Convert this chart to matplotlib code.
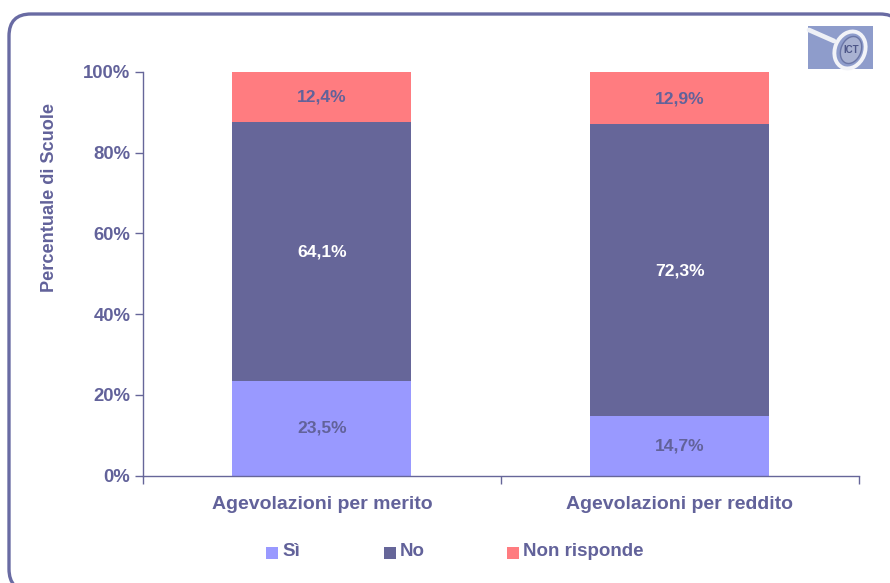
import matplotlib
matplotlib.use("Agg")
import matplotlib.pyplot as plt
from matplotlib.patches import Ellipse, FancyBboxPatch, Rectangle
from matplotlib.ticker import FixedLocator, NullFormatter
import numpy as np

categories = ["Agevolazioni per merito", "Agevolazioni per reddito"]
si = [23.5, 14.7]
no = [64.1, 72.3]
non_risponde = [12.4, 12.9]
y_ticks = [0, 20, 40, 60, 80, 100]
y_tick_labels = ["0%", "20%", "40%", "60%", "80%", "100%"]

W, H = 890, 583
TEXT = "#62629a"
C_SI = "#9999ff"
C_NO = "#666699"
C_NR = "#ff7c80"

plt.rcParams["font.family"] = ["Liberation Sans", "DejaVu Sans"]
plt.rcParams["font.weight"] = "bold"

fig = plt.figure(figsize=(W / 100, H / 100), dpi=100, facecolor="white")

# background layer in pixel coordinates: frame and logo
bg = fig.add_axes([0, 0, 1, 1])
bg.set_xlim(0, W)
bg.set_ylim(H, 0)
bg.axis("off")
bg.add_patch(FancyBboxPatch((9, 14), 893, 577,
                            boxstyle="round,pad=0,rounding_size=22",
                            fc="white", ec="#696ba3", lw=2.4, clip_on=True))
bg.add_patch(Rectangle((808, 26), 65, 43, fc="#8e9ccb", ec="none"))
bg.plot([809, 834], [30, 41], color="#eef0f6", lw=3.4, solid_capstyle="round")
bg.add_patch(Ellipse((850, 50), 30, 38, angle=22, fc="none", ec="#f2f3f8", lw=2.8))
bg.add_patch(Ellipse((851, 50), 20, 28, angle=22, fc="#a9b2d2", ec="#6b76a6", lw=1))
bg.text(851, 50, "ICT", fontsize=7, color="#4d5688", ha="center", va="center")

ax = fig.add_axes([143 / W, 1 - 475.5 / H, (858.5 - 143) / W, (475.5 - 72) / H])
ax.patch.set_alpha(0)

x = np.arange(len(categories))
bottom_no = np.array(si)
bottom_nr = bottom_no + np.array(no)
bars_si = ax.bar(x, si, 0.5, color=C_SI, label="Sì")
bars_no = ax.bar(x, no, 0.5, bottom=bottom_no, color=C_NO, label="No")
bars_nr = ax.bar(x, non_risponde, 0.5, bottom=bottom_nr, color=C_NR, label="Non risponde")

for bars, vals, col in [(bars_si, si, TEXT), (bars_no, no, "white"), (bars_nr, non_risponde, TEXT)]:
    for bar, v in zip(bars, vals):
        ax.text(bar.get_x() + bar.get_width() / 2, bar.get_y() + bar.get_height() / 2 - 0.1,
                f"{v:.1f}%".replace(".", ","), ha="center", va="center",
                fontsize=12.6, color=col)

ax.set_xlim(-0.5, 1.5)
ax.set_ylim(0, 100)
ax.set_yticks(y_ticks)
ax.set_yticklabels(y_tick_labels, fontsize=13.3, color=TEXT)

# y title is not centred on the axis in the original
bg.text(50, 197, "Percentuale di Scuole", rotation=90, fontsize=13.1, color=TEXT,
        ha="center", va="center")

# category labels sit between ticks on the boundaries
ax.xaxis.set_major_locator(FixedLocator([-0.5, 0.5, 1.5]))
ax.xaxis.set_major_formatter(NullFormatter())
for xi, name in zip(x, categories):
    ax.text(xi, -7.1, name, ha="center", va="center", fontsize=14, color=TEXT, clip_on=False)

ax.tick_params(axis="y", length=6, width=1, color=C_NO, pad=3, direction="out")
ax.tick_params(axis="x", length=6, width=1, color=C_NO, direction="out")
for side in ["top", "right"]:
    ax.spines[side].set_visible(False)
for side in ["left", "bottom"]:
    ax.spines[side].set_color(C_NO)
    ax.spines[side].set_linewidth(1)

# legend entries are spaced by hand in the original layout
for handle_x, text_x, name, col in [(266, 282, "Sì", C_SI), (384, 400, "No", C_NO), (507, 523, "Non risponde", C_NR)]:
    bg.add_patch(Rectangle((handle_x, 547), 12, 12, fc=col, ec="none"))
    bg.text(text_x, 552, name, fontsize=13.5, color=TEXT, ha="left", va="center")

fig.savefig("out.png", dpi=100)
